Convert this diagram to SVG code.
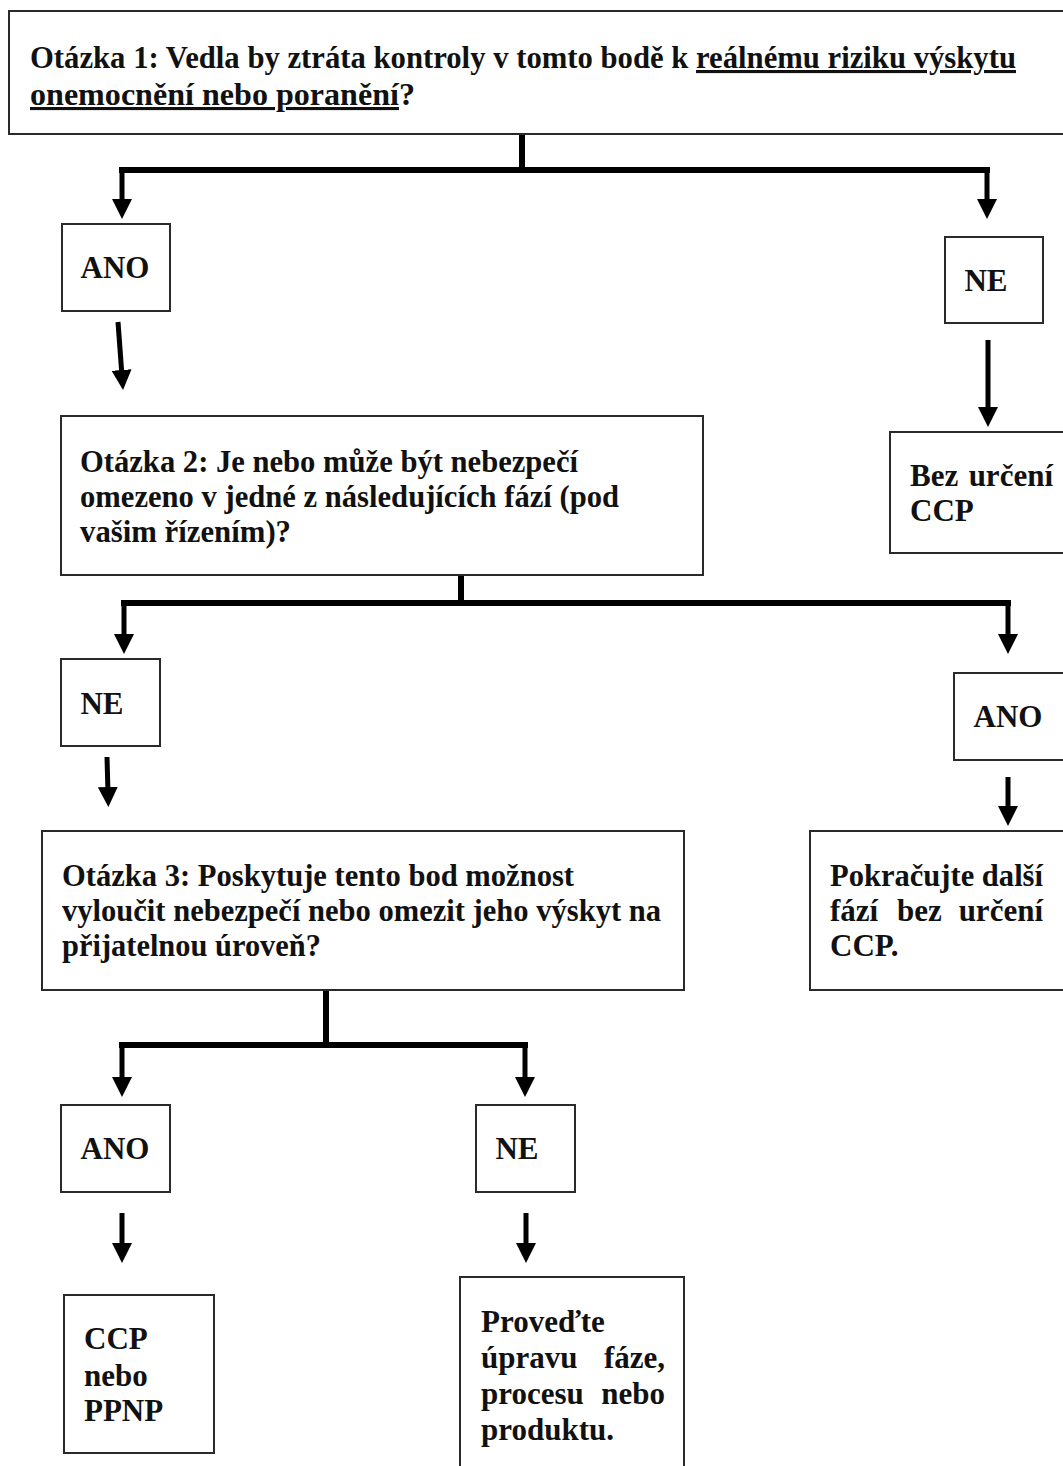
<svg xmlns="http://www.w3.org/2000/svg" width="1063" height="1466" viewBox="0 0 1063 1466">
<defs>
<marker id="ah" viewBox="0 0 10 10" refX="3" refY="5" markerWidth="4" markerHeight="4" orient="auto">
<path d="M0,0 L10,5 L0,10 Z" fill="#000"/>
</marker>
<style>
.box{fill:#fff;stroke:#2a2a2a;stroke-width:2}
.t{font-family:"Liberation Serif","Times New Roman",serif;font-weight:bold;font-size:31px;fill:#111}
.c{fill:none;stroke:#000;stroke-width:6}
.a{fill:none;stroke:#000;stroke-width:5;marker-end:url(#ah)}
.u{text-decoration:underline}
</style>
</defs>
<rect width="1063" height="1466" fill="#fff"/>

<g id="connectors">
<path class="c" d="M522,134 V170 M119,170 H990"/>
<path class="a" d="M122,170 V205"/>
<path class="a" d="M987,170 V205"/>
<path class="a" d="M118,322 L122,376"/>
<path class="a" d="M988,340 V413"/>
<path class="c" d="M461,575 V603 M121,603 H1011"/>
<path class="a" d="M124,603 V640"/>
<path class="a" d="M1008,603 V640"/>
<path class="a" d="M107,757 L108,793"/>
<path class="a" d="M1008,777 V812"/>
<path class="c" d="M326,990 V1045 M119,1045 H528"/>
<path class="a" d="M122,1045 V1083"/>
<path class="a" d="M525,1045 V1083"/>
<path class="a" d="M122,1213 V1249"/>
<path class="a" d="M526,1213 V1249"/>
</g>

<g id="q1">
<rect class="box" x="9" y="11" width="1064" height="123"/>
<text class="t" x="30" y="68" textLength="986" lengthAdjust="spacingAndGlyphs">Otázka 1: Vedla by ztráta kontroly v tomto bodě k <tspan class="u">reálnému riziku výskytu</tspan></text>
<text class="t" x="30" y="105" textLength="385" lengthAdjust="spacingAndGlyphs"><tspan class="u">onemocnění nebo poranění</tspan>?</text>
</g>

<g id="ano1">
<rect class="box" x="62" y="224" width="108" height="87"/>
<text class="t" x="115" y="278" text-anchor="middle">ANO</text>
</g>

<g id="ne1">
<rect class="box" x="945" y="237" width="98" height="86"/>
<text class="t" x="986" y="291" text-anchor="middle">NE</text>
</g>

<g id="bez">
<rect class="box" x="890" y="432" width="180" height="121"/>
<text class="t" x="910" y="486">Bez</text>
<text class="t" x="1053" y="486" text-anchor="end">určení</text>
<text class="t" x="910" y="521">CCP</text>
</g>

<g id="q2">
<rect class="box" x="61" y="416" width="642" height="159"/>
<text class="t" x="80" y="472" textLength="498" lengthAdjust="spacingAndGlyphs">Otázka 2: Je nebo může být nebezpečí</text>
<text class="t" x="80" y="507" textLength="539" lengthAdjust="spacingAndGlyphs">omezeno v jedné z následujících fází (pod</text>
<text class="t" x="80" y="542" textLength="211" lengthAdjust="spacingAndGlyphs">vašim řízením)?</text>
</g>

<g id="ne2">
<rect class="box" x="61" y="659" width="99" height="87"/>
<text class="t" x="102" y="714" text-anchor="middle">NE</text>
</g>

<g id="ano2">
<rect class="box" x="954" y="673" width="115" height="87"/>
<text class="t" x="1008" y="727" text-anchor="middle">ANO</text>
</g>

<g id="pokracujte">
<rect class="box" x="810" y="831" width="260" height="159"/>
<text class="t" x="830" y="886" textLength="213" lengthAdjust="spacingAndGlyphs">Pokračujte další</text>
<text class="t" x="830" y="921">fází</text>
<text class="t" x="897" y="921">bez</text>
<text class="t" x="1043" y="921" text-anchor="end">určení</text>
<text class="t" x="830" y="956">CCP.</text>
</g>

<g id="q3">
<rect class="box" x="42" y="831" width="642" height="159"/>
<text class="t" x="62" y="886" textLength="512" lengthAdjust="spacingAndGlyphs">Otázka 3: Poskytuje tento bod možnost</text>
<text class="t" x="62" y="921" textLength="599" lengthAdjust="spacingAndGlyphs">vyloučit nebezpečí nebo omezit jeho výskyt na</text>
<text class="t" x="62" y="956" textLength="259" lengthAdjust="spacingAndGlyphs">přijatelnou úroveň?</text>
</g>

<g id="ano3">
<rect class="box" x="61" y="1105" width="109" height="87"/>
<text class="t" x="115" y="1159" text-anchor="middle">ANO</text>
</g>

<g id="ne3">
<rect class="box" x="476" y="1105" width="99" height="87"/>
<text class="t" x="517" y="1159" text-anchor="middle">NE</text>
</g>

<g id="ccp">
<rect class="box" x="64" y="1295" width="150" height="158"/>
<text class="t" x="84" y="1349">CCP</text>
<text class="t" x="84" y="1386">nebo</text>
<text class="t" x="84" y="1421">PPNP</text>
</g>

<g id="provedte">
<rect class="box" x="460" y="1277" width="224" height="200"/>
<text class="t" x="481" y="1332">Proveďte</text>
<text class="t" x="481" y="1368">úpravu</text>
<text class="t" x="665" y="1368" text-anchor="end">fáze,</text>
<text class="t" x="481" y="1404">procesu</text>
<text class="t" x="665" y="1404" text-anchor="end">nebo</text>
<text class="t" x="481" y="1440">produktu.</text>
</g>
</svg>
